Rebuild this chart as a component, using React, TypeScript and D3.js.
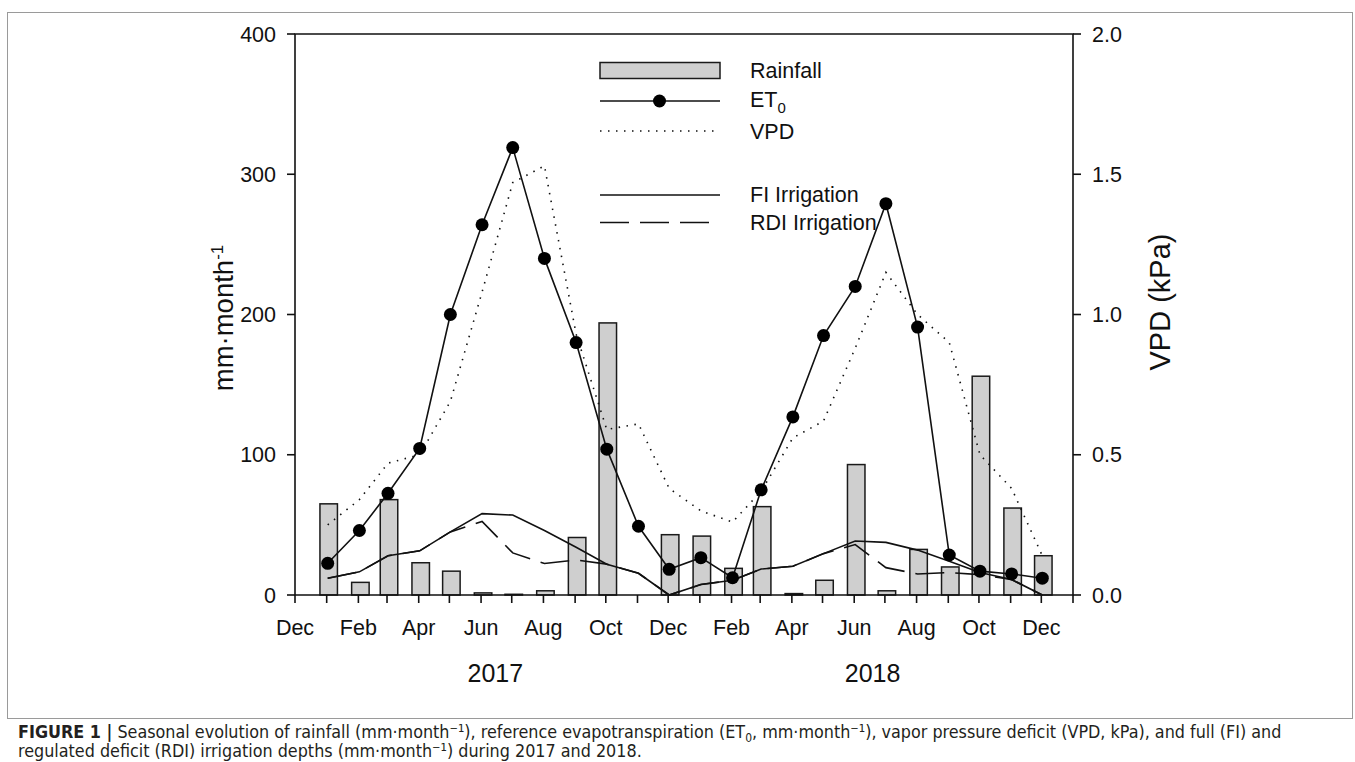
import * as d3 from "d3";

const W = 1355;
const H = 762;

// monthly values, Jan 2017 .. Dec 2018
const months = d3.timeMonth.range(new Date(2017, 0, 1), new Date(2019, 0, 1));
const rainfall = [65, 9, 68, 23, 17, 1.5, 0.5, 3, 41, 194, 0, 43, 42, 19, 63, 1, 10.5, 93, 3, 32.5, 20, 156, 62, 28];
const et0 = [22.6, 46, 72.5, 104.5, 200, 264, 319, 240, 180, 104, 49, 18.3, 26.6, 12.3, 75, 127, 185, 220, 279, 191, 28.5, 17, 15, 12];
const vpd = [0.25, 0.34, 0.47, 0.5, 0.69, 1.08, 1.47, 1.53, 0.93, 0.59, 0.61, 0.38, 0.3, 0.26, 0.37, 0.56, 0.62, 0.88, 1.15, 1.0, 0.9, 0.5, 0.38, 0.14];
const fi = [12, 16.5, 28, 31.5, 45, 58, 57, 46, 34, 22, 15.5, 0, 7.5, 10.5, 18.5, 20.5, 29.5, 38.5, 37.5, 32, 24, 16, 11, 0];
const rdi = [12, 16.5, 28, 31.5, 45, 52.5, 30, 22.5, 25, 22, 15.5, 0, 7.5, 10.5, 18.5, 20.5, 29.5, 36, 19.5, 15, 16, 14.5, 11, 0];

const leftTicks = [0, 100, 200, 300, 400];
const rightTicks = [0, 0.5, 1.0, 1.5, 2.0];
const years = ["2017", "2018"];

const font = "'Liberation Sans', Arial, Helvetica, sans-serif";

export default function App() {
  const left = 295;
  const right = 1073;
  const top = 34;
  const bottom = 595;

  const x = d3
    .scaleTime()
    .domain([new Date(2016, 11, 1), new Date(2019, 0, 1)])
    .range([left, right]);
  const y = d3.scaleLinear().domain([0, 400]).range([bottom, top]);
  const yR = d3.scaleLinear().domain([0, 2]).range([bottom, top]);

  const monthTicks = d3.timeMonth.range(new Date(2016, 11, 1), new Date(2019, 0, 2));
  const fmtMonth = d3.timeFormat("%b");

  const barW = 17.5;
  const off = 1;

  const lineL = d3
    .line<number>()
    .x((_, i) => x(months[i]) + off)
    .y((d) => y(d));
  const lineR = d3
    .line<number>()
    .x((_, i) => x(months[i]) + off)
    .y((d) => yR(d));

  const yearX = [x(new Date(2017, 5, 15)), x(new Date(2018, 5, 19))];

  return (
    <svg width={W} height={H} style={{ position: "absolute", left: 0, top: 0, background: "#fff" }} fontFamily={font}>
      <rect x={7.5} y={12.5} width={1345} height={706} fill="none" stroke="#9a9a9a" strokeWidth={1} />

      {/* bars */}
      {rainfall.map((d, i) => (
        <rect
          key={i}
          x={x(months[i]) + off + 1 - barW / 2}
          y={y(d)}
          width={barW}
          height={bottom - y(d)}
          fill="#cfcfcf"
          stroke="#1a1a1a"
          strokeWidth={1.5}
        />
      ))}

      {/* lines */}
      <path d={lineR(vpd) ?? ""} fill="none" stroke="#111" strokeWidth={1.6} strokeDasharray="1.5 6.5" />
      <path d={lineL(fi) ?? ""} fill="none" stroke="#111" strokeWidth={1.6} />
      <path d={lineL(rdi) ?? ""} fill="none" stroke="#111" strokeWidth={1.6} strokeDasharray="29 11" />
      <path d={lineL(et0) ?? ""} fill="none" stroke="#111" strokeWidth={1.6} />
      {et0.map((d, i) => (
        <circle key={i} cx={x(months[i]) + off} cy={y(d)} r={6.5} fill="#000" />
      ))}

      {/* frame */}
      <path
        d={`M${left},${bottom}V${top}H${right}V${bottom}Z`}
        fill="none"
        stroke="#111"
        strokeWidth={1.6}
      />

      {/* left axis */}
      {leftTicks.map((t) => (
        <g key={t}>
          <line x1={left - 8} x2={left} y1={y(t)} y2={y(t)} stroke="#111" strokeWidth={1.6} />
          <text x={left - 19} y={y(t)} dy="0.35em" textAnchor="end" fontSize={21.5} fill="#111">
            {t}
          </text>
        </g>
      ))}
      {/* right axis */}
      {rightTicks.map((t) => (
        <g key={t}>
          <line x1={right} x2={right + 8} y1={yR(t)} y2={yR(t)} stroke="#111" strokeWidth={1.6} />
          <text x={right + 19} y={yR(t)} dy="0.35em" textAnchor="start" fontSize={21.5} fill="#111">
            {t.toFixed(1)}
          </text>
        </g>
      ))}
      {/* bottom axis */}
      {monthTicks.map((m, i) => (
        <g key={i}>
          <line x1={x(m)} x2={x(m)} y1={bottom} y2={bottom + 8} stroke="#111" strokeWidth={1.6} />
          {i % 2 === 0 && i < 25 ? (
            <text x={x(m)} y={635} textAnchor="middle" fontSize={21.5} fill="#111">
              {fmtMonth(m)}
            </text>
          ) : null}
        </g>
      ))}
      {years.map((yr, i) => (
        <text key={yr} x={yearX[i]} y={682} textAnchor="middle" fontSize={25} fill="#111">
          {yr}
        </text>
      ))}

      {/* axis titles */}
      <text transform={`translate(233,318) rotate(-90)`} textAnchor="middle" fontSize={27.5} fill="#111">
        mm·month
        <tspan dy={-10} fontSize={17}>
          -1
        </tspan>
      </text>
      <text transform={`translate(1170,302) rotate(-90)`} textAnchor="middle" fontSize={29} fill="#111">
        VPD (kPa)
      </text>

      {/* legend */}
      <g fontSize={21.5} fill="#111">
        <rect x={600} y={62.5} width={120} height={16} fill="#cfcfcf" stroke="#1a1a1a" strokeWidth={1.5} />
        <text x={750} y={78}>Rainfall</text>
        <line x1={600} x2={720} y1={101} y2={101} stroke="#111" strokeWidth={1.6} />
        <circle cx={659.5} cy={101} r={6.5} fill="#000" />
        <text x={750} y={107}>
          ET<tspan dy={6} fontSize={15}>0</tspan>
        </text>
        <line x1={600} x2={720} y1={131} y2={131} stroke="#111" strokeWidth={1.6} strokeDasharray="1.5 6.5" />
        <text x={750} y={139}>VPD</text>
        <line x1={600} x2={720} y1={195} y2={195} stroke="#111" strokeWidth={1.6} />
        <text x={750} y={202}>FI Irrigation</text>
        <line x1={600} x2={720} y1={222.5} y2={222.5} stroke="#111" strokeWidth={1.6} strokeDasharray="29 11" />
        <text x={750} y={230}>RDI Irrigation</text>
      </g>

      {/* caption */}
      <g fontFamily="'Liberation Sans Narrow', 'DejaVu Sans Condensed', 'Arial Narrow', sans-serif" fontSize={17.8} fill="#231f20">
        <text x={18} y={738}>
          <tspan fontWeight="bold">FIGURE 1 |</tspan> Seasonal evolution of rainfall (mm·month⁻¹), reference evapotranspiration (ET
          <tspan dy={4} fontSize={12}>0</tspan>
          <tspan dy={-4}>, mm·month⁻¹), vapor pressure deficit (VPD, kPa), and full (FI) and</tspan>
        </text>
        <text x={18} y={757}>regulated deficit (RDI) irrigation depths (mm·month⁻¹) during 2017 and 2018.</text>
      </g>
    </svg>
  );
}
